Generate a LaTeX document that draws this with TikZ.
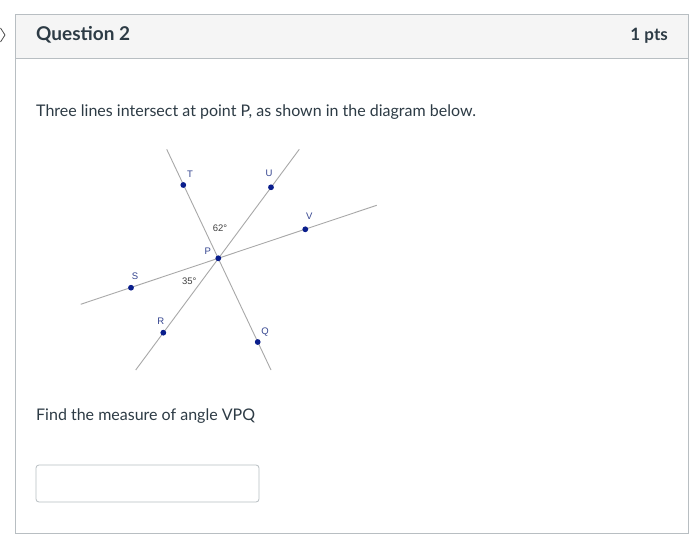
\documentclass[tikz,border=0pt]{standalone}
\usepackage{fontspec}
\setmainfont{Lato}
\newfontfamily\geofont{Liberation Sans}
\definecolor{canvastext}{HTML}{2D3B45}
\definecolor{framegray}{HTML}{B8BEC2}
\definecolor{headfill}{HTML}{F5F5F5}
\definecolor{linegray}{HTML}{A8A8A8}
\definecolor{ptblue}{HTML}{0A1E8C}
\definecolor{lblblue}{HTML}{34448F}
\begin{document}
\begin{tikzpicture}[x=1pt,y=-1pt,
  geoline/.style={draw=linegray,line width=0.9pt},
  geopt/.style={circle,fill=ptblue,inner sep=0pt,minimum size=5.8pt},
  ptlabel/.style={font=\geofont\fontsize{9.5}{11}\selectfont,text=lblblue,inner sep=0pt},
  anglabel/.style={font=\geofont\fontsize{9.5}{11}\selectfont,text=black!75,inner sep=0pt},
  bodytext/.style={font=\fontsize{16}{19}\selectfont,text=canvastext,anchor=west,inner sep=0pt}]
\useasboundingbox (0,0) rectangle (699,545);
\fill[white] (0,0) rectangle (699,545);
% frame
\fill[headfill] (15,14) rectangle (688,58);
\draw[framegray,line width=0.8pt] (15,14) rectangle (688,533);
\draw[framegray,line width=0.8pt] (15,58) -- (688,58);
% chevron
\draw[black!70,line width=0.8pt] (0.5,28) -- (5,35) -- (0.5,42);
\node[font=\bfseries\fontsize{19}{22}\selectfont,text=canvastext,anchor=west,inner sep=0pt] (qtitle) at (36,35) {Question 2};
\node[font=\bfseries\fontsize{17}{20}\selectfont,text=canvastext,anchor=east,inner sep=0pt] (pts) at (668,36) {1 pts};
\node[bodytext] (intro) at (36,112) {Three lines intersect at point P, as shown in the diagram below.};
\node[bodytext] (ask) at (36,416) {Find the measure of angle VPQ};
\draw[framegray,line width=0.8pt,rounded corners=3pt] (36,465) rectangle (259,502);
% geometry
\coordinate (tqa) at (166.7,149.3);
\coordinate (tqb) at (271,370);
\coordinate (rua) at (299.3,149.3);
\coordinate (rub) at (135.7,370);
\coordinate (sva) at (80.7,304.3);
\coordinate (svb) at (376.7,205.3);
\draw[geoline] (tqa) -- (tqb);
\draw[geoline] (rua) -- (rub);
\draw[geoline] (sva) -- (svb);
\node[geopt] (P) at (218.3,258.3) {};
\node[geopt] (T) at (183.3,185) {};
\node[geopt] (U) at (271,187.3) {};
\node[geopt] (V) at (305.3,229.3) {};
\node[geopt] (S) at (131,287.7) {};
\node[geopt] (R) at (163.3,332.7) {};
\node[geopt] (Q) at (257.7,342) {};
\node[ptlabel] (lT) at (190,174.3) {T};
\node[ptlabel] (lU) at (269,173.3) {U};
\node[ptlabel] (lV) at (309.3,216) {V};
\node[ptlabel] (lP) at (207.7,251) {P};
\node[ptlabel] (lS) at (135,276) {S};
\node[ptlabel] (lR) at (160.7,321) {R};
\node[ptlabel] (lQ) at (265,332.3) {Q};
\node[anglabel] (a62) at (220,228.3) {62\textdegree};
\node[anglabel] (a35) at (189.3,281) {35\textdegree};
\end{tikzpicture}
\end{document}
